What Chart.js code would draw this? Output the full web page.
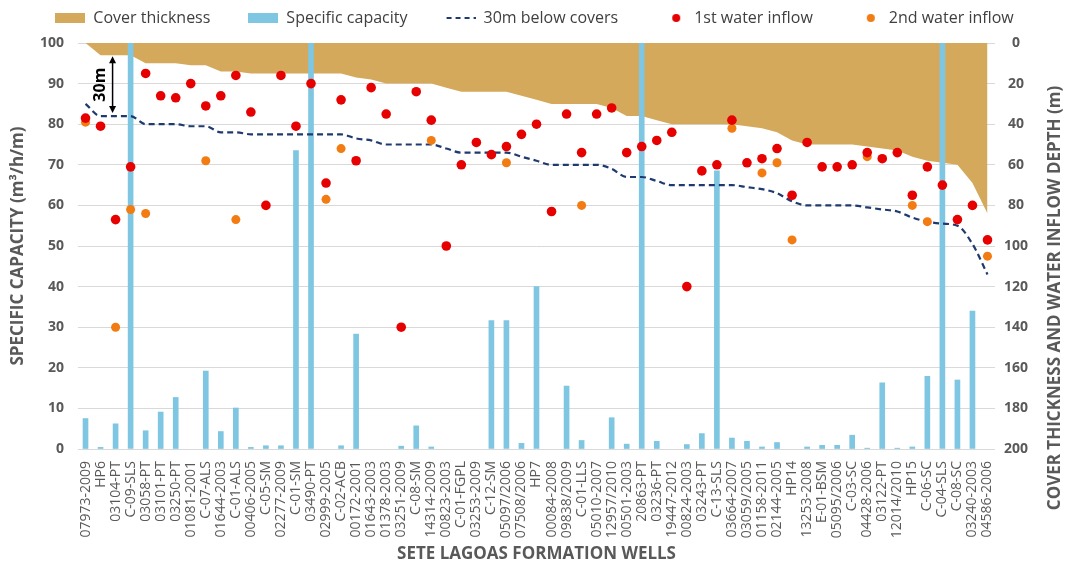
<!DOCTYPE html>
<html lang="en">
<head>
<meta charset="UTF-8" />
<title>Sete Lagoas Formation Wells</title>
<script src="https://cdn.jsdelivr.net/npm/chart.js"></script>
<style>
  html, body { margin: 0; padding: 0; background: #fff; }
  canvas { display: block; }
</style>
</head>
<body>
<canvas id="wells" width="1069" height="568"></canvas>
<script>
  const wells = [
    '07973-2009', 'HP6', '03104-PT', 'C-09-SLS', '03058-PT', '03101-PT', '03250-PT', '01081-2001',
    'C-07-ALS', '01644-2003', 'C-01-ALS', '00406-2005', 'C-05-SM', '02277-2009', 'C-01-SM', '03490-PT',
    '02999-2005', 'C-02-ACB', '00172-2001', '01643-2003', '01378-2003', '03251-2009', 'C-08-SM', '14314-2009',
    '00823-2003', 'C-01-FGPL', '03253-2009', 'C-12-SM', '05097/2006', '07508/2006', 'HP7', '00084-2008',
    '09838/2009', 'C-01-LLS', '05010-2007', '12957/2010', '00501-2003', '20863-PT', '03236-PT', '19447-2012',
    '00824-2003', '03243-PT', 'C-13-SLS', '03664-2007', '03059/2005', '01158-2011', '02144-2005', 'HP14',
    '13253-2008', 'E-01-BSM', '05095/2006', 'C-03-SC', '04428-2006', '03122-PT', '12014/2010', 'HP15',
    'C-06-SC', 'C-04-SLS', 'C-08-SC', '03240-2003', '04586-2006'
  ];

  // depth of the cover (m, right axis)
  const coverThickness = [
    0, 6, 6, 6, 10, 10, 10, 11, 11, 14, 14, 15, 15, 15, 15, 15,
    15, 15, 17, 18, 20, 20, 20, 20, 22, 24, 24, 24, 24, 26, 28, 30,
    30, 30, 30, 32, 36, 36, 38, 40, 40, 40, 40, 40, 41, 42, 44, 48,
    50, 50, 50, 50, 51, 52, 53, 56, 58, 59, 60, 69, 84
  ];

  // 30 m below the covers (m, right axis)
  const belowCovers = [
    30, 36, 36, 36, 40, 40, 40, 41, 41, 44, 44, 45, 45, 45, 45, 45,
    45, 45, 47, 48, 50, 50, 50, 50, 52, 54, 54, 54, 54, 56, 58, 60,
    60, 60, 60, 62, 66, 66, 68, 70, 70, 70, 70, 70, 71, 72, 74, 78,
    80, 80, 80, 80, 81, 82, 83, 86, 88, 89, 90, 99, 114
  ];

  // m3/h/m, left axis
  const specificCapacity = [
    7.5, 0.4, 6.2, 100, 4.5, 9.1, 12.7, null, 19.2, 4.3, 10.1, 0.4, 0.8, 0.8, 73.5, 100,
    null, 0.8, 28.3, null, null, 0.7, 5.7, 0.5, null, null, null, 31.6, 31.6, 1.4, 40, null,
    15.5, 2.1, null, 7.7, 1.2, 100, 1.9, null, 1.1, 3.8, 68.5, 2.7, 1.9, 0.5, 1.6, null,
    0.5, 0.9, 0.9, 3.4, 0.2, 16.3, 0.2, 0.5, 17.9, 100, 17, 34, null
  ];

  // inflow depths (m, right axis)
  const firstInflow = [
    37, 41, 87, 61, 15, 26, 27, 20, 31, 26, 16, 34, 80, 16, 41, 20,
    69, 28, 58, 22, 35, 140, 24, 38, 100, 60, 49, 55, 51, 45, 40, 83,
    35, 54, 35, 32, 54, 51, 48, 44, 120, 63, 60, 38, 59, 57, 52, 75,
    49, 61, 61, 60, 54, 57, 54, 75, 61, 70, 87, 80, 97
  ];

  const secondInflow = [
    39, null, 140, 82, 84, null, null, null, 58, null, 87, null, null, null, null, null,
    77, 52, null, null, null, null, null, 48, null, null, null, null, 59, null, null, null,
    null, 80, null, null, null, null, null, null, null, null, null, 42, null, 64, 59, 97,
    null, null, null, null, 56, null, null, 80, 88, null, null, null, 105
  ];

  const brown = '#D5A95C';
  const blue = '#7EC6E1';
  const navy = '#1F3A6E';
  const red = '#E60000';
  const orange = '#F27B12';
  const grey = '#595959';
  const legendGap = 38;

  Chart.defaults.font.family = "'Open Sans', sans-serif";

  function keyImage(draw) {
    const c = document.createElement('canvas');
    c.width = 30;
    c.height = 12;
    draw(c.getContext('2d'));
    return c;
  }

  const legendKeys = [
    keyImage(g => { g.fillStyle = brown; g.fillRect(0, 1, 30, 10); }),
    keyImage(g => { g.fillStyle = blue; g.fillRect(0, 1, 30, 10); }),
    keyImage(g => {
      g.strokeStyle = navy; g.lineWidth = 2; g.setLineDash([5, 4]);
      g.beginPath(); g.moveTo(1, 6); g.lineTo(30, 6); g.stroke();
    }),
    keyImage(g => { g.fillStyle = red; g.beginPath(); g.arc(20, 6, 4, 0, Math.PI * 2); g.fill(); }),
    keyImage(g => { g.fillStyle = orange; g.beginPath(); g.arc(20, 6, 4, 0, Math.PI * 2); g.fill(); })
  ];

  // legend band is 43px high; the wide item padding also pushes the row down,
  // so raise the box top while drawing (the legend clips to its own box)
  const legendBand = {
    id: 'legendBand',
    afterInit(chart) {
      const lg = chart.legend;
      const fit = lg.fit;
      const draw = lg.draw;
      lg.fit = function () {
        fit.call(this);
        this.height = 43;
      };
      lg.draw = function () {
        const top = this.top;
        this.top = top - (legendGap - 8) + 2;
        draw.call(this);
        this.top = top;
      };
    }
  };

  // "30m" double arrow + right axis title (reads bottom to top like the left one)
  const notes = {
    id: 'notes',
    afterDatasetsDraw(chart) {
      const { ctx, scales: { x, y1 } } = chart;
      const ax = x.getPixelForValue(2) - 3;
      const top = y1.getPixelForValue(coverThickness[2]) + 1;
      const bot = y1.getPixelForValue(belowCovers[2]) - 3;
      ctx.save();
      ctx.strokeStyle = '#000';
      ctx.fillStyle = '#000';
      ctx.lineWidth = 1.5;
      ctx.beginPath();
      ctx.moveTo(ax, top + 5);
      ctx.lineTo(ax, bot - 5);
      ctx.stroke();
      ctx.beginPath();
      ctx.moveTo(ax, top); ctx.lineTo(ax - 3.5, top + 7); ctx.lineTo(ax + 3.5, top + 7);
      ctx.closePath(); ctx.fill();
      ctx.beginPath();
      ctx.moveTo(ax, bot); ctx.lineTo(ax - 3.5, bot - 7); ctx.lineTo(ax + 3.5, bot - 7);
      ctx.closePath(); ctx.fill();
      ctx.translate(ax - 12, (top + bot) / 2);
      ctx.rotate(-Math.PI / 2);
      ctx.font = "bold 16px 'Open Sans', sans-serif";
      ctx.textAlign = 'center';
      ctx.textBaseline = 'middle';
      ctx.fillText('30m', 0, 0);
      ctx.restore();
    },
    afterDraw(chart) {
      const ctx = chart.ctx;
      ctx.save();
      ctx.translate(chart.width - 14, 298);
      ctx.rotate(-Math.PI / 2);
      ctx.font = "bold 17px 'Open Sans', sans-serif";
      ctx.fillStyle = grey;
      ctx.textAlign = 'center';
      ctx.textBaseline = 'middle';
      ctx.fillText('COVER THICKNESS AND WATER INFLOW DEPTH (m)', 0, 0);
      ctx.restore();
    }
  };

  const tickFont = { size: 14, weight: 'bold' };
  const titleFont = { size: 17, weight: 'bold' };

  new Chart(document.getElementById('wells'), {
    data: {
      labels: wells,
      datasets: [
        {
          type: 'line',
          label: 'Cover thickness',
          data: coverThickness,
          yAxisID: 'y1',
          fill: 'origin',
          backgroundColor: brown,
          borderWidth: 0,
          pointRadius: 0,
          tension: 0,
          order: 5
        },
        {
          type: 'bar',
          label: 'Specific capacity',
          data: specificCapacity,
          yAxisID: 'y',
          backgroundColor: blue,
          barThickness: 5,
          order: 4
        },
        {
          type: 'line',
          label: '30m below covers',
          data: belowCovers,
          yAxisID: 'y1',
          borderColor: navy,
          borderWidth: 2.2,
          borderDash: [6, 4],
          pointRadius: 0,
          fill: false,
          cubicInterpolationMode: 'monotone',
          order: 3
        },
        {
          type: 'line',
          label: '1st water inflow',
          data: firstInflow,
          yAxisID: 'y1',
          showLine: false,
          pointRadius: 4.8,
          pointBorderWidth: 0,
          pointBackgroundColor: red,
          order: 1
        },
        {
          type: 'line',
          label: '2nd water inflow',
          data: secondInflow,
          yAxisID: 'y1',
          showLine: false,
          pointRadius: 4.5,
          pointBorderWidth: 0,
          pointBackgroundColor: orange,
          order: 2
        }
      ]
    },
    options: {
      responsive: false,
      animation: false,
      layout: { padding: 0 },
      plugins: {
        tooltip: { enabled: false },
        legend: {
          position: 'top',
          labels: {
            usePointStyle: true,
            pointStyleWidth: 30,
            boxHeight: 12,
            padding: legendGap,
            color: '#404040',
            font: { size: 16 },
            generateLabels: chart => chart.data.datasets.map((ds, i) => ({
              text: ds.label,
              pointStyle: legendKeys[i],
              datasetIndex: i,
              hidden: false,
              lineWidth: 0,
              fillStyle: 'transparent',
              strokeStyle: 'transparent',
              fontColor: '#404040'
            }))
          }
        }
      },
      scales: {
        x: {
          offset: true,
          grid: { display: false },
          border: { display: false },
          ticks: {
            autoSkip: false,
            maxRotation: 90,
            minRotation: 90,
            padding: 4,
            color: grey,
            font: { size: 14 }
          },
          title: {
            display: true,
            text: 'SETE LAGOAS FORMATION WELLS',
            color: grey,
            font: titleFont,
            padding: { top: 0, bottom: 4 }
          },
          afterFit: s => { s.height = 119; }
        },
        y: {
          position: 'left',
          min: 0,
          max: 100,
          grid: { color: '#D9D9D9', drawTicks: false },
          border: { display: false },
          ticks: { stepSize: 10, padding: 14, color: grey, font: tickFont },
          title: {
            display: true,
            text: 'SPECIFIC CAPACITY (m³/h/m)',
            color: grey,
            font: titleFont,
            padding: { top: 8, bottom: 0 }
          },
          afterFit: s => { s.width = 78; }
        },
        y1: {
          position: 'right',
          min: 0,
          max: 200,
          reverse: true,
          grid: { display: false, drawTicks: false },
          border: { display: false },
          ticks: { stepSize: 20, padding: 9, color: grey, font: tickFont, crossAlign: 'center' },
          afterFit: s => { s.width = 74; }
        }
      }
    },
    plugins: [legendBand, notes]
  });
</script>
</body>
</html>
